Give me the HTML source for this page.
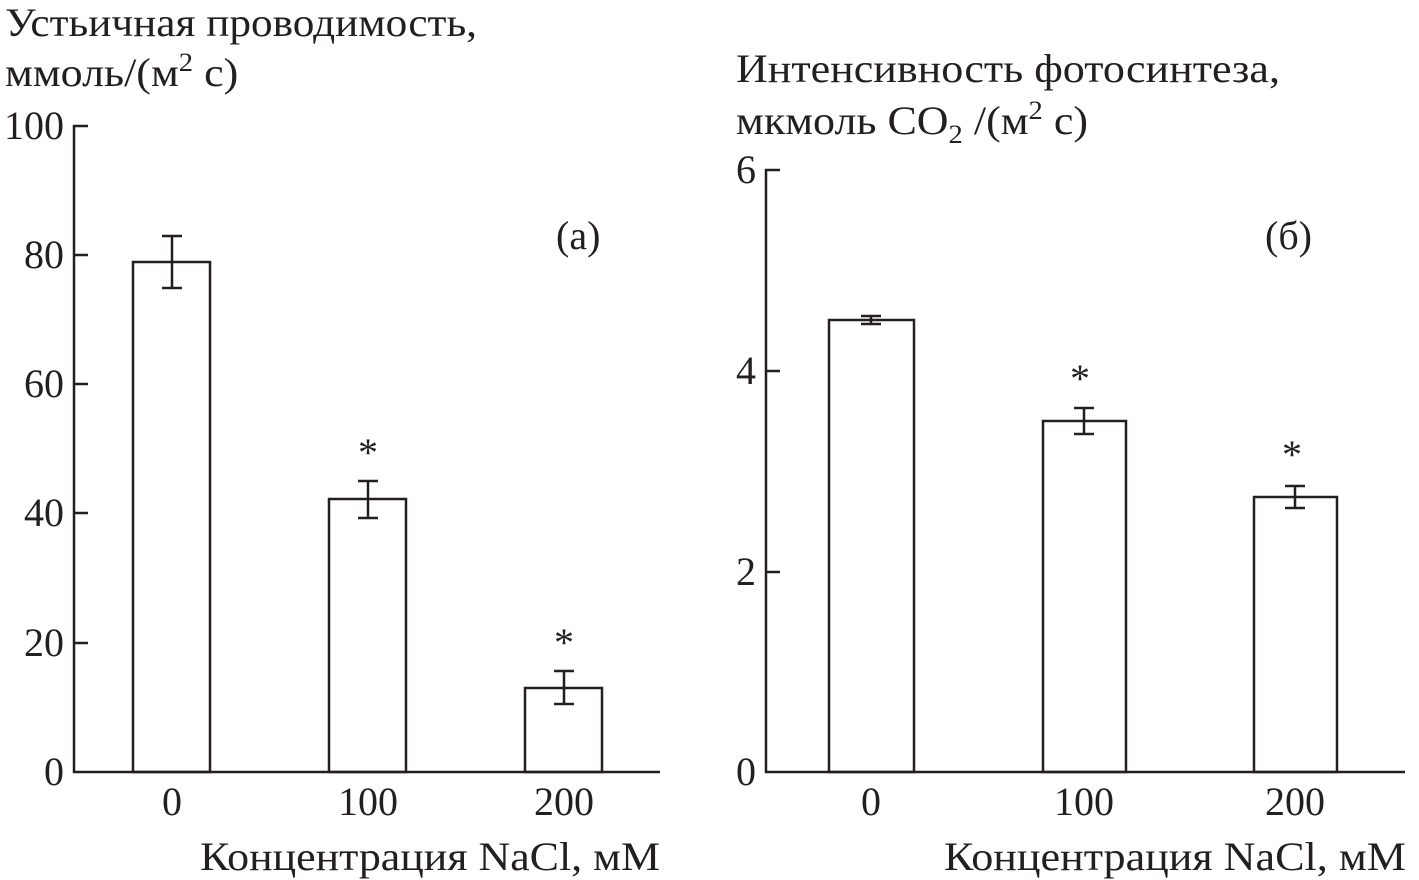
<!DOCTYPE html><html><head><meta charset="utf-8"><style>body{margin:0;background:#fff}svg{display:block}text{font-family:"Liberation Serif",serif;fill:#231f20}</style></head><body>
<svg width="1419" height="880" xmlns="http://www.w3.org/2000/svg">
<g stroke="#231f20" stroke-width="2.5" fill="none">
<path d="M88,126H74V772H660"/>
<path d="M74,255H88M74,384H88M74,513H88M74,643H88"/>
<rect x="133" y="262" width="77" height="510"/>
<rect x="329" y="499" width="77" height="273"/>
<rect x="525" y="688" width="77" height="84"/>
<path d="M172,236V288M162,236H182M162,288H182"/>
<path d="M368,481V518M358,481H378M358,518H378"/>
<path d="M564,671V704M554,671H574M554,704H574"/>
<path d="M780,170H766V772H1405"/>
<path d="M766,371H780M766,572H780"/>
<rect x="829" y="320" width="85" height="452"/>
<rect x="1043" y="421" width="83" height="351"/>
<rect x="1254" y="497" width="83" height="275"/>
<path d="M871,316V324M861,316H881M861,324H881"/>
<path d="M1084,408V434M1074,408H1094M1074,434H1094"/>
<path d="M1295,486V508M1285,486H1305M1285,508H1305"/>
</g>
<g font-size="40">
<text x="5" y="36" textLength="472" lengthAdjust="spacingAndGlyphs">Устьичная проводимость,</text>
<text x="0" y="86" transform="translate(5,0) scale(1.1,1)">ммоль/(м<tspan font-size="26" dy="-15">2</tspan><tspan dy="15"> с)</tspan></text>
<g text-anchor="end"><text x="64" y="139">100</text><text x="64" y="268">80</text><text x="64" y="397">60</text><text x="64" y="526">40</text><text x="64" y="656">20</text><text x="64" y="785">0</text>
<text x="756" y="183">6</text><text x="756" y="384">4</text><text x="756" y="585">2</text><text x="756" y="785">0</text></g>
<g text-anchor="middle"><text x="172" y="815">0</text><text x="368" y="815">100</text><text x="564" y="815">200</text>
<text x="871" y="815">0</text><text x="1084" y="815">100</text><text x="1295" y="815">200</text>
<text x="368" y="466">*</text><text x="564" y="656">*</text><text x="1080" y="392">*</text><text x="1292" y="468">*</text></g>
<text x="556" y="249">(а)</text><text x="1265" y="249">(б)</text>
<text x="200" y="870" textLength="460" lengthAdjust="spacingAndGlyphs">Концентрация NaCl, мМ</text>
<text x="944" y="870" textLength="462" lengthAdjust="spacingAndGlyphs">Концентрация NaCl, мМ</text>
<text x="736" y="82" textLength="544" lengthAdjust="spacingAndGlyphs">Интенсивность фотосинтеза,</text>
<text x="0" y="134" transform="translate(736,0) scale(1.1,1)">мкмоль CO<tspan font-size="26" dy="9">2</tspan><tspan dy="-9"> /(м</tspan><tspan font-size="26" dy="-15">2</tspan><tspan dy="15"> с)</tspan></text>
</g>
</svg></body></html>
